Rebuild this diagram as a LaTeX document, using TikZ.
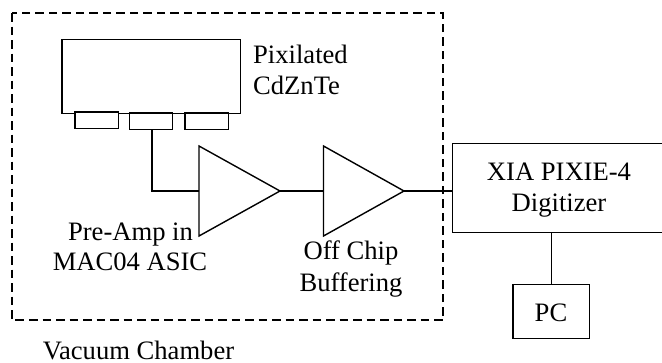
\documentclass[tikz,border=0pt]{standalone}
\usepackage{fontspec}
\setmainfont{Liberation Serif}
\tikzset{
  px/.style={x=1pt,y=-1pt},
  line/.style={draw=black,line width=1.4pt},
  lbl/.style={font=\fontsize{26.6}{30.5}\selectfont,inner sep=0pt},
  boxn/.style={draw=black,line width=1.4pt,inner sep=0pt,outer sep=0pt,anchor=north west},
}
\begin{document}
\begin{tikzpicture}[px]
\useasboundingbox (0,0) rectangle (662,362);
\draw[draw=black,line width=1.3pt,dash pattern=on 8.5pt off 5pt] (12,13) rectangle (443,320);
\node[boxn,minimum width=178.5pt,minimum height=74pt] (det) at (62,39.5) {};
\node[boxn,fill=white,minimum width=43.5pt,minimum height=16.5pt] (p1) at (75,112) {};
\node[boxn,fill=white,minimum width=43pt,minimum height=16.5pt] (p2) at (129.5,113) {};
\node[boxn,fill=white,minimum width=43.5pt,minimum height=16.5pt] (p3) at (185,113) {};
\coordinate (a1n) at (199,146);
\coordinate (a1s) at (199,236);
\coordinate (a1t) at (280,191);
\coordinate (a2n) at (323.5,146);
\coordinate (a2s) at (323.5,236);
\coordinate (a2t) at (404,191);
\draw[line] (a1n) -- (a1s) -- (a1t) -- cycle;
\draw[line] (a2n) -- (a2s) -- (a2t) -- cycle;
\node[boxn,minimum width=213pt,minimum height=89pt] (dig) at (452.6,143.7) {};
\node[boxn,minimum width=76.7pt,minimum height=54pt] (pc) at (513,284.3) {};
\draw[line] (p2.south -| 152,0) |- (199,191);
\draw[line] (a1t) -- (323.5,191);
\draw[line] (a2t) -- (dig.west |- a2t);
\draw[line] (dig.south -| pc.north) -- (pc.north);
\node[lbl,anchor=base west] (l1a) at (253,63.5) {Pixilated};
\node[lbl,anchor=base west] (l1b) at (253,94) {CdZnTe};
\node[lbl,anchor=base] (l3a) at (130.5,240) {Pre-Amp in};
\node[lbl,anchor=base] (l3b) at (130,270) {MAC04 ASIC};
\node[lbl,anchor=base] (l4a) at (351,259) {Off Chip};
\node[lbl,anchor=base] (l4b) at (351,291) {Buffering};
\node[lbl,anchor=base] (l5a) at (559,180) {XIA PIXIE-4};
\node[lbl,anchor=base] (l5b) at (559,211) {Digitizer};
\node[lbl,anchor=base] (l6) at (551,321) {PC};
\node[lbl,anchor=base] (l7) at (138.5,359) {Vacuum Chamber};
\end{tikzpicture}
\end{document}
